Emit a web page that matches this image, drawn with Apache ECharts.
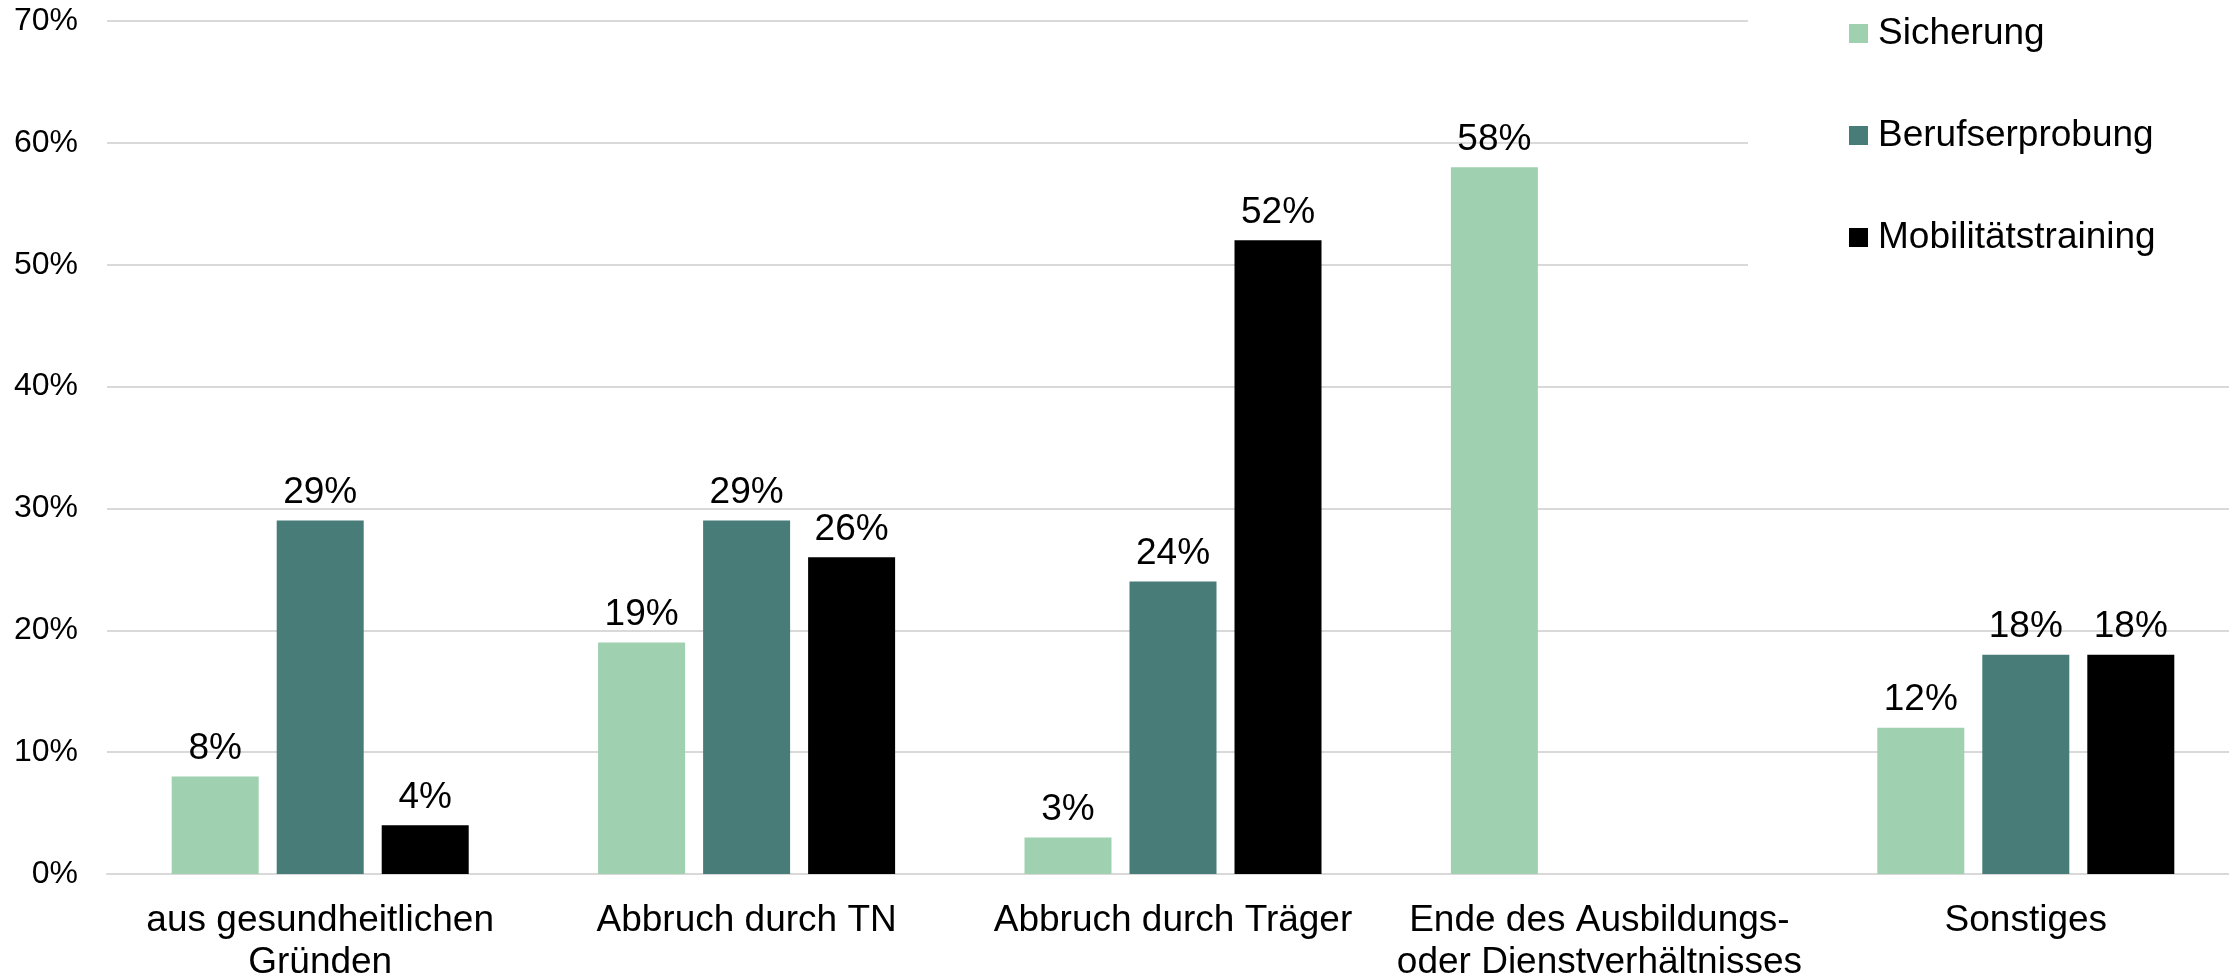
<!doctype html>
<html lang="de">
  <head>
    <meta charset="UTF-8" />
    <title>Abbruchgründe</title>
    <script src="https://cdn.jsdelivr.net/npm/echarts@6/dist/echarts.min.js"></script>
    <style>
      html, body { margin: 0; padding: 0; background: #fff; }
      #chart { width: 2229px; height: 978px; }
    </style>
  </head>
  <body>
    <div id="chart"></div>
    <script>
      // Data
      var categories = [
        'aus gesundheitlichen\nGründen',
        'Abbruch durch TN',
        'Abbruch durch Träger',
        'Ende des Ausbildungs-\noder Dienstverhältnisses',
        'Sonstiges'
      ];
      var seriesNames = ['Sicherung', 'Berufserprobung', 'Mobilitätstraining'];
      var sicherung = [8, 19, 3, 58, 12];
      var berufserprobung = [29, 29, 24, null, 18];
      var mobilitaet = [4, 26, 52, null, 18];
      var colors = ['#9fd0b0', '#477c79', '#000000'];

      var font = '"Liberation Sans", Arial, sans-serif';

      function makeSeries(name, data, color) {
        return {
          name: name,
          type: 'bar',
          data: data,
          barWidth: 87,
          barGap: '20.7%',
          itemStyle: { color: color },
          label: {
            show: true,
            position: 'top',
            distance: 9,
            formatter: '{c}%',
            color: '#000',
            fontFamily: font,
            fontSize: 37
          }
        };
      }

      var chart = echarts.init(document.getElementById('chart'), null, { renderer: 'canvas' });

      chart.setOption({
        animation: false,
        backgroundColor: '#fff',
        grid: { left: 107, right: -10, top: 21, bottom: 104, outerBoundsMode: 'none' },
        legend: {
          data: seriesNames,
          orient: 'vertical',
          left: 1748,
          top: 0,
          padding: [15, 200, 30, 101],
          backgroundColor: '#fff',
          itemWidth: 19,
          itemHeight: 19,
          itemGap: 65,
          icon: 'rect',
          textStyle: { color: '#000', fontFamily: font, fontSize: 37, padding: [0, 0, 0, 5] }
        },
        xAxis: {
          type: 'category',
          data: categories,
          axisLine: { lineStyle: { color: '#d9d9d9', width: 2 } },
          axisTick: { show: false },
          axisLabel: {
            interval: 0,
            color: '#000',
            fontFamily: font,
            fontSize: 37,
            lineHeight: 42,
            margin: 26
          }
        },
        yAxis: {
          type: 'value',
          min: 0,
          max: 70,
          interval: 10,
          axisLine: { show: false },
          axisTick: { show: false },
          splitLine: { lineStyle: { color: '#d9d9d9', width: 2 } },
          axisLabel: {
            formatter: '{value}%',
            color: '#000',
            fontFamily: font,
            fontSize: 32,
            margin: 29
          }
        },
        series: [
          makeSeries(seriesNames[0], sicherung, colors[0]),
          makeSeries(seriesNames[1], berufserprobung, colors[1]),
          makeSeries(seriesNames[2], mobilitaet, colors[2])
        ]
      });
    </script>
  </body>
</html>
